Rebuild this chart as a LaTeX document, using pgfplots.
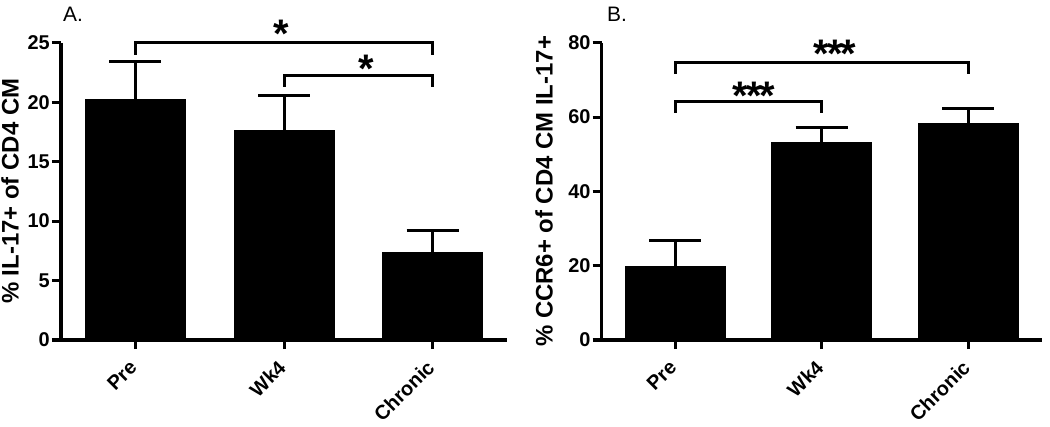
\documentclass[border=0pt]{standalone}
\usepackage{fontspec}
\setmainfont{Liberation Sans}
\usepackage{pgfplots}
\pgfplotsset{compat=1.18}
\tikzset{
  bracket/.style={line width=3bp, black, line cap=rect, line join=miter},
  stars/.style={font=\fontsize{40}{46}\selectfont\bfseries, anchor=base, inner sep=0pt},
}
\newcommand{\threestars}{*\kern-0.05em*\kern-0.05em*}
\begin{document}
\begin{tikzpicture}
\useasboundingbox (0bp,0bp) rectangle (1050bp,427bp);
\pgfplotsset{
  prism/.style={
    scale only axis,
    axis lines*=left,
    axis line style={line width=3bp, black},
    xmin=-0.5, xmax=2.5, ymin=0,
    xtick={0,1,2}, xticklabels={Pre,Wk4,Chronic},
    tick align=outside,
    major tick length=9bp,
    tick style={line width=3bp, black},
    xticklabel style={font=\fontsize{20}{24}\selectfont\bfseries, rotate=45, anchor=east, inner sep=0bp, xshift=-12bp, yshift=-9.2bp},
    yticklabel style={font=\fontsize{20}{24}\selectfont\bfseries, inner sep=2bp},
    /pgf/number format/assume math mode=true,
    ylabel style={font=\fontsize{24}{28}\selectfont\bfseries, anchor=center},
    clip=false,
    ybar, bar width=100bp,
    height=297.3bp,
  },
  barplot/.style={fill=black, draw=black, line width=1bp,
    error bars/.cd, y dir=plus, y explicit,
    error bar style={line width=3bp, black},
    error mark options={rotate=90, mark size=26bp, line width=3bp, black}},
}
% Panel A
\begin{axis}[prism, at={(61bp,87bp)}, anchor=south west, width=446bp,
  ymax=25, ytick={0,5,10,15,20,25},
  ylabel={\% IL-17+ of CD4 CM},
  ylabel style={at={(axis description cs:-0.114,0.5)}}]
\addplot[barplot] coordinates {(0,20.25) +- (0,3.13) (1,17.6) +- (0,2.95) (2,7.32) +- (0,1.87)};
\draw[bracket] (axis cs:0,24.11) -- (axis cs:0,25) -- (axis cs:2,25) -- (axis cs:2,24.11);
\draw[bracket] (axis cs:1,21.36) -- (axis cs:1,22.2) -- (axis cs:2,22.2) -- (axis cs:2,21.36);
\node[stars] at (axis cs:0.98,24.6) {*};
\node[stars] at (axis cs:1.556,21.66) {*};
\end{axis}
% Panel B
\begin{axis}[prism, at={(601.7bp,87bp)}, anchor=south west, width=440bp,
  ymax=80, ytick={0,20,40,60,80},
  ylabel={\% CCR6+ of CD4 CM IL-17+},
  ylabel style={at={(axis description cs:-0.131,0.5)}}]
\addplot[barplot] coordinates {(0,19.9) +- (0,6.8) (1,53.1) +- (0,4.1) (2,58.2) +- (0,4.0)};
\draw[bracket] (axis cs:0,72.0) -- (axis cs:0,74.8) -- (axis cs:2,74.8) -- (axis cs:2,72.0);
\draw[bracket] (axis cs:0,61.4) -- (axis cs:0,64.3) -- (axis cs:1,64.3) -- (axis cs:1,61.4);
\node[stars] at (axis cs:1.09,73.3) {\threestars};
\node[stars] at (axis cs:0.54,62.1) {\threestars};
\end{axis}
\node[anchor=base west, inner sep=0pt, font=\fontsize{21}{25}\selectfont] at (63bp,405bp) {A.};
\node[anchor=base west, inner sep=0pt, font=\fontsize{21}{25}\selectfont] at (607bp,405bp) {B.};
\end{tikzpicture}
\end{document}
